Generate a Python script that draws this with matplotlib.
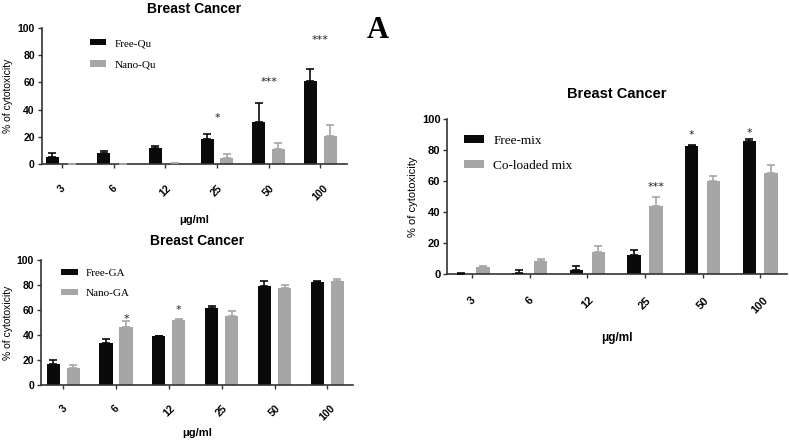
import matplotlib
matplotlib.use("Agg")
import matplotlib.pyplot as plt
import numpy as np

doses = ["3", "6", "12", "25", "50", "100"]

# Panel 1: quercetin
free_qu = [5, 8, 12, 18.5, 31, 61]
free_qu_err = [3, 1.5, 1.2, 3.5, 13.5, 8.5]
nano_qu = [0, 0, 0.5, 4.5, 11, 20.5]
nano_qu_err = [0, 0, 0.4, 2.5, 4.5, 8]
qu_stars = [(3, 34, "*"), (4, 60, "***"), (5, 91, "***")]

# Panel 2: gallic acid
free_ga = [16.8, 33.3, 38.9, 61.3, 79.2, 82.4]
free_ga_err = [3.2, 3.2, 0.6, 2.2, 4.0, 0.6]
nano_ga = [13.9, 46.7, 51.7, 55.5, 77.3, 83.2]
nano_ga_err = [2.1, 4.5, 1.3, 3.5, 2.4, 1.8]
ga_stars = [(1.19, 53, "*"), (2.19, 60, "*")]

# Panel 3: mix
free_mix = [0.4, 0.6, 2.6, 12.3, 82.4, 85.8]
free_mix_err = [0.5, 1.8, 3.0, 3.4, 1.0, 1.7]
co_mix = [4.7, 8.6, 14.4, 44.3, 60.4, 65.6]
co_mix_err = [0.9, 1.1, 3.9, 5.6, 3.0, 4.9]
mix_stars = [(3.19, 56, "***"), (4 - 0.19, 90, "*"), (5 - 0.19, 91, "*")]

BLACK = "#0a0a0a"
GREY = "#a6a6a6"

fig = plt.figure(figsize=(7.89, 4.43), dpi=100)


def panel(rect, a, a_err, b, b_err, labels, stars, xlim, off, width,
          title_fs, title_pad, leg_anchor, leg_fs, leg_spacing, tick_fs,
          lab_fs, xtick_pad, xlab_pad, star_fs):
    ax = fig.add_axes(rect)
    x = np.arange(len(doses))
    ax.bar(x - off, a, width, color=BLACK, label=labels[0], zorder=2)
    ax.errorbar(x - off, a, yerr=[np.zeros(len(a)), a_err], fmt="none",
                ecolor=BLACK, elinewidth=1.2, capsize=3, capthick=1.2, zorder=3)
    ax.bar(x + off, b, width, color=GREY, label=labels[1], zorder=2)
    ax.errorbar(x + off, b, yerr=[np.zeros(len(b)), b_err], fmt="none",
                ecolor=GREY, elinewidth=1.2, capsize=3, capthick=1.2, zorder=3)
    for sx, sy, s in stars:
        ax.text(sx, sy, s, ha="center", va="center", fontsize=star_fs, color="#222")
    ax.set_xlim(*xlim)
    ax.set_ylim(0, 100)
    ax.set_yticks([0, 20, 40, 60, 80, 100])
    ax.set_xticks(x)
    ax.set_xticklabels(doses, rotation=45, ha="center", fontsize=tick_fs,
                       fontweight="bold", family="Liberation Sans")
    for t in ax.get_yticklabels():
        t.set_fontsize(tick_fs)
        t.set_fontweight("bold")
        t.set_family("Liberation Sans")
    ax.tick_params(axis="x", direction="out", length=3, width=1, pad=xtick_pad, color="#333")
    ax.tick_params(axis="y", direction="out", length=3, width=1, pad=2, color="#333")
    for s in ("top", "right"):
        ax.spines[s].set_visible(False)
    for s in ("left", "bottom"):
        ax.spines[s].set_linewidth(1.2)
        ax.spines[s].set_color("#333")
    ax.set_ylabel("% of cytotoxicity", fontsize=lab_fs, family="Liberation Sans",
                  labelpad=3)
    ax.set_xlabel("μg/ml", fontsize=lab_fs + 0.5, fontweight="bold",
                  family="Liberation Sans", labelpad=xlab_pad)
    ax.set_title("Breast Cancer", fontsize=title_fs, fontweight="bold",
                 family="Liberation Sans", pad=title_pad)
    ax.legend(loc="upper left", bbox_to_anchor=leg_anchor, frameon=False,
              prop={"family": "Liberation Serif", "size": leg_fs},
              handlelength=1.5, handleheight=0.55, handletextpad=0.7,
              borderpad=0, borderaxespad=0, labelspacing=leg_spacing)
    return ax


panel([0.053, 0.630, 0.387, 0.307], free_qu, free_qu_err, nano_qu, nano_qu_err,
      ["Free-Qu", "Nano-Qu"], qu_stars, (-0.39, 5.52), 0.19, 0.25,
      10, 11, (0.157, 0.92), 8, 1.1, 7.5, 7.5, 11, 9, 8)

panel([0.052, 0.131, 0.395, 0.282], free_ga, free_ga_err, nano_ga, nano_ga_err,
      ["Free-GA", "Nano-GA"], ga_stars, (-0.42, 5.48), 0.19, 0.25,
      10, 11, (0.064, 0.93), 8, 0.95, 7.5, 7.5, 10, 4, 8)

panel([0.567, 0.381, 0.430, 0.350], free_mix, free_mix_err, co_mix, co_mix_err,
      ["Free-mix", "Co-loaded mix"], mix_stars, (-0.43, 5.46), 0.19, 0.23,
      10.5, 15, (0.05, 0.90), 9.5, 1.0, 8, 8, 12, 12, 8)

fig.text(0.479, 0.932, "A", fontsize=22, fontweight="bold",
         family="Liberation Serif", ha="center", va="center")

fig.savefig("out.png", dpi=100)
